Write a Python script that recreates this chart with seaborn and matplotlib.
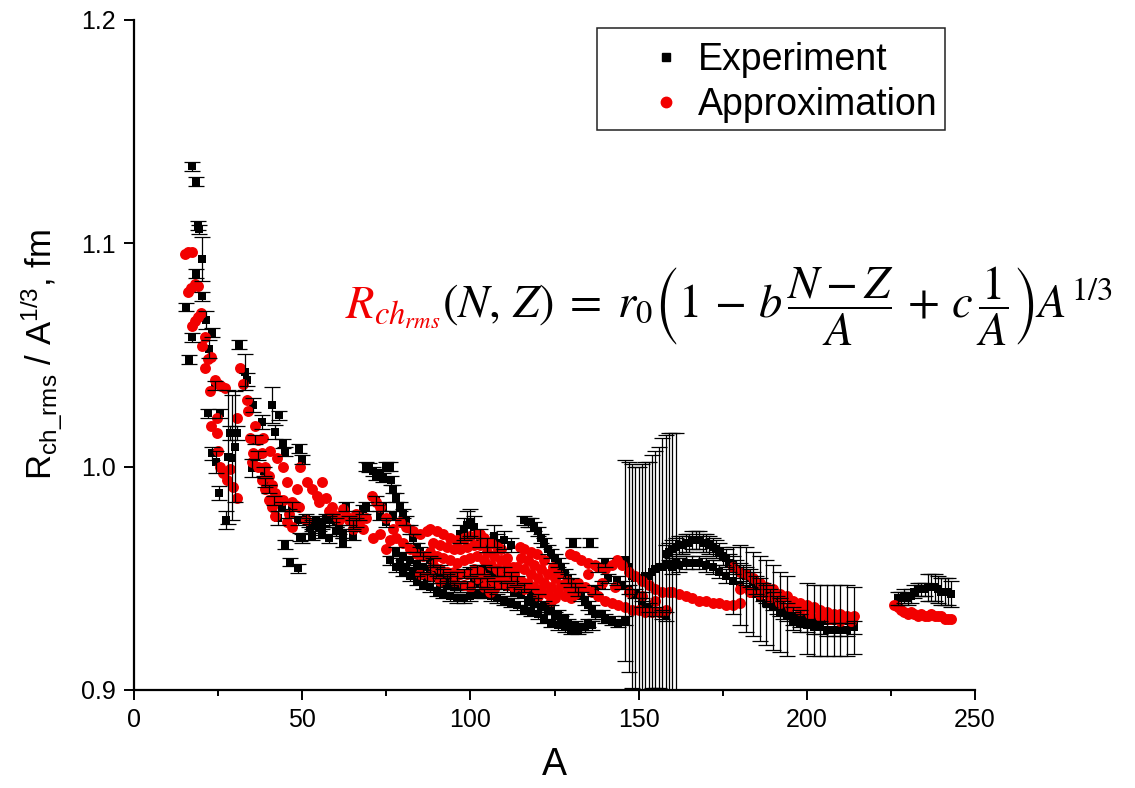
import matplotlib
matplotlib.use("Agg")
import matplotlib.pyplot as plt
from matplotlib.lines import Line2D
from matplotlib.patches import Rectangle
from matplotlib.ticker import MultipleLocator, FormatStrFormatter
import pandas as pd
import seaborn as sns

# ---------------- Experiment: (A, R/A^(1/3), error) ----------------
exp_light = [
    (15.4, 1.0715, 0.002), (16.3, 1.0478, 0.002), (17.2, 1.1346, 0.002), (17.2, 1.058, 0.002),
    (18.4, 1.1275, 0.002), (18.4, 1.0863, 0.002), (19.0, 1.1078, 0.002), (19.3, 1.1062, 0.002),
    (20.2, 1.093, 0.010), (20.2, 1.0764, 0.002), (21.4, 1.0657, 0.004), (22.0, 1.024, 0.002),
    (22.3, 1.0527, 0.004), (23.2, 1.060, 0.002), (23.2, 1.006, 0.003), (24.0, 1.0365, 0.002),
    (24.4, 1.002, 0.005), (25.3, 0.9882, 0.003), (25.5, 1.024, 0.002), (27.3, 0.976, 0.004),
    (28.0, 1.0043, 0.030), (28.5, 1.015, 0.003), (29.0, 1.004, 0.028), (30.0, 1.009, 0.025),
    (30.5, 1.015, 0.003), (31.2, 1.0545, 0.002), (33.0, 1.0424, 0.008), (33.5, 1.039, 0.003),
    (35.0, 0.9994, 0.004), (35.4, 1.0276, 0.003), (36.0, 1.012, 0.002), (37.0, 1.005, 0.002),
    (38.0, 1.020, 0.003), (38.5, 0.998, 0.002), (39.0, 0.993, 0.002), (40.0, 0.990, 0.002),
    (41.0, 1.0276, 0.008), (41.5, 0.985, 0.002), (42.0, 1.0155, 0.003), (42.8, 0.977, 0.003),
    (43.0, 1.023, 0.002), (44.0, 0.982, 0.002), (44.3, 1.0105, 0.002), (44.9, 0.965, 0.002),
    (45.0, 1.0066, 0.002), (46.0, 0.979, 0.002), (46.3, 0.9573, 0.002), (47.0, 0.982, 0.002),
    (48.7, 0.976, 0.002), (48.8, 0.9546, 0.002), (49.0, 1.008, 0.002), (49.3, 0.9685, 0.002),
    (50.0, 1.003, 0.002), (52.3, 0.9725, 0.002), (55.9, 0.9716, 0.002),
]
exp_mid = [
    (50, 0.968, 0.002), (51, 0.977, 0.002), (52, 0.975, 0.002), (53, 0.974, 0.002), (53, 0.969, 0.002),
    (54, 0.976, 0.002), (55, 0.973, 0.002), (56, 0.975, 0.002), (56, 0.970, 0.002), (57, 0.977, 0.002),
    (58, 0.976, 0.002), (58, 0.968, 0.002), (59, 0.977, 0.002), (60, 0.975, 0.002), (60, 0.971, 0.002),
    (61, 0.972, 0.002), (62, 0.970, 0.002), (62, 0.966, 0.002), (63, 0.982, 0.002), (64, 0.976, 0.002),
    (65, 0.974, 0.002), (65, 0.969, 0.002), (66, 0.975, 0.002), (67, 0.978, 0.002), (68, 0.981, 0.002),
    (69, 0.982, 0.002),
]
exp_upper = [
    (69, 1.000, 0.002), (70, 0.9997, 0.002), (71, 0.998, 0.002), (72, 0.996, 0.002), (73, 0.997, 0.002),
    (74, 0.995, 0.002), (75, 1.000, 0.002), (76, 1.000, 0.002), (76.5, 0.994, 0.002), (77, 0.990, 0.002),
    (78, 0.986, 0.002), (79, 0.982, 0.002), (80, 0.979, 0.002), (81, 0.976, 0.002), (82, 0.972, 0.002),
    (83, 0.968, 0.002), (84, 0.964, 0.002), (85, 0.962, 0.002), (86, 0.960, 0.002), (88, 0.958, 0.002),
    (89, 0.957, 0.002), (91, 0.954, 0.002), (93, 0.950, 0.002), (94, 0.949, 0.002), (72, 0.985, 0.002),
    (73, 0.978, 0.002), (74, 0.982, 0.002), (75, 0.975, 0.002), (77, 0.978, 0.002),
]
exp_band = [
    (78, 0.962, 0.002), (80, 0.960, 0.002), (82, 0.958, 0.002), (84, 0.956, 0.002), (86, 0.955, 0.002),
    (88, 0.954, 0.002), (90, 0.953, 0.002), (92, 0.952, 0.002), (94, 0.951, 0.002), (96, 0.951, 0.002),
    (98, 0.952, 0.002), (100, 0.953, 0.002), (102, 0.954, 0.002), (104, 0.954, 0.002), (106, 0.953, 0.002),
    (108, 0.953, 0.002), (110, 0.953, 0.002), (112, 0.951, 0.002), (114, 0.949, 0.002), (116, 0.946, 0.002),
    (118, 0.943, 0.002), (120, 0.941, 0.002), (122, 0.938, 0.002), (124, 0.936, 0.002), (126, 0.934, 0.002),
    (128, 0.932, 0.002),
    (76, 0.958, 0.002), (78, 0.955, 0.002), (80, 0.953, 0.002), (82, 0.951, 0.002), (84, 0.949, 0.002),
    (86, 0.947, 0.002), (88, 0.946, 0.002), (90, 0.944, 0.002), (92, 0.943, 0.002), (94, 0.942, 0.002),
    (96, 0.941, 0.002), (98, 0.941, 0.002), (100, 0.942, 0.002), (102, 0.943, 0.002), (104, 0.943, 0.002),
    (106, 0.942, 0.002), (108, 0.941, 0.002), (110, 0.940, 0.002), (112, 0.939, 0.002), (114, 0.938, 0.002),
    (116, 0.936, 0.002), (118, 0.935, 0.002), (120, 0.934, 0.002), (122, 0.932, 0.002), (124, 0.930, 0.002),
    (126, 0.929, 0.002), (128, 0.928, 0.002), (130, 0.927, 0.002), (132, 0.927, 0.002), (134, 0.928, 0.002),
    (136, 0.929, 0.002),
    (85, 0.951, 0.002), (89, 0.950, 0.002), (93, 0.947, 0.002), (97, 0.946, 0.002), (101, 0.948, 0.002),
    (105, 0.948, 0.002), (109, 0.947, 0.002), (113, 0.944, 0.002), (117, 0.940, 0.002), (121, 0.937, 0.002),
    (125, 0.933, 0.002),
]
exp_band_fill = [
    (79, 0.957, 0.002), (81, 0.955, 0.002), (83, 0.953, 0.002), (87, 0.950, 0.002), (91, 0.948, 0.002),
    (95, 0.946, 0.002), (99, 0.947, 0.002), (103, 0.948, 0.002), (107, 0.947, 0.002), (111, 0.946, 0.002),
    (115, 0.943, 0.002), (119, 0.939, 0.002), (123, 0.936, 0.002), (127, 0.931, 0.002), (129, 0.930, 0.002),
    (131, 0.929, 0.002), (133, 0.928, 0.002), (135, 0.930, 0.002),
]
exp_cluster = [
    (97, 0.970, 0.004), (98, 0.972, 0.005), (99, 0.974, 0.006), (100, 0.975, 0.006), (101, 0.973, 0.005),
    (103, 0.968, 0.004), (105, 0.965, 0.003), (107, 0.969, 0.005), (108, 0.966, 0.004), (110, 0.967, 0.004),
    (112, 0.965, 0.003),
]
exp_desc = [
    (116, 0.976, 0.002), (117, 0.975, 0.002), (118, 0.975, 0.002), (119, 0.973, 0.002), (120, 0.971, 0.002),
    (121, 0.968, 0.002), (122, 0.966, 0.002), (123, 0.963, 0.002), (124, 0.961, 0.002), (125, 0.959, 0.002),
    (126, 0.957, 0.002), (127, 0.955, 0.002), (128, 0.952, 0.002), (129, 0.950, 0.002), (130, 0.948, 0.002),
    (131, 0.946, 0.002), (132, 0.944, 0.002), (133, 0.942, 0.002), (134, 0.940, 0.002), (135, 0.938, 0.002),
    (136, 0.936, 0.002), (137, 0.934, 0.002), (130.4, 0.966, 0.002), (135.5, 0.966, 0.002),
]
exp_mix = [
    (137, 0.945, 0.002), (138, 0.955, 0.002), (139, 0.947, 0.002), (139, 0.934, 0.002), (140, 0.957, 0.002),
    (140, 0.932, 0.002), (141, 0.950, 0.002), (142, 0.931, 0.002), (143.5, 0.949, 0.002), (144, 0.930, 0.002),
    (145, 0.947, 0.002), (146, 0.931, 0.002), (147, 0.945, 0.002), (149, 0.943, 0.002), (151, 0.942, 0.002),
    (151, 0.939, 0.002), (153, 0.937, 0.002), (155, 0.935, 0.002), (157, 0.934, 0.002), (158, 0.933, 0.002),
]
exp_bigerr = [
    (146, 0.958, 0.045), (147, 0.955, 0.047), (148, 0.951, 0.050), (149, 0.950, 0.050), (150, 0.950, 0.050),
    (151, 0.950, 0.051), (152, 0.951, 0.051), (153, 0.951, 0.051), (154, 0.953, 0.052), (155, 0.954, 0.053),
    (156, 0.955, 0.054), (157, 0.955, 0.058), (158, 0.956, 0.058), (159, 0.956, 0.059), (160, 0.956, 0.059),
    (161, 0.957, 0.058),
]
exp_arc = [
    (158, 0.961, 0.004), (160, 0.963, 0.004), (162, 0.965, 0.004), (164, 0.966, 0.004), (166, 0.967, 0.004),
    (168, 0.967, 0.004), (170, 0.966, 0.004), (172, 0.964, 0.004), (174, 0.962, 0.004), (176, 0.959, 0.004),
    (178, 0.956, 0.004), (180, 0.953, 0.004), (182, 0.951, 0.004), (184, 0.949, 0.004), (186, 0.946, 0.004),
    (188, 0.943, 0.004), (190, 0.940, 0.004), (192, 0.937, 0.004), (194, 0.935, 0.004), (196, 0.933, 0.004),
    (198, 0.932, 0.004), (200, 0.932, 0.016), (202, 0.931, 0.016), (204, 0.931, 0.016), (206, 0.931, 0.016),
    (208, 0.931, 0.016), (210, 0.931, 0.016), (212, 0.931, 0.016), (214, 0.931, 0.015),
]
exp_arc_fill = [
    (159, 0.962, 0.004), (161, 0.964, 0.004), (163, 0.965, 0.004), (165, 0.966, 0.004), (167, 0.967, 0.004),
    (169, 0.966, 0.004), (171, 0.965, 0.004), (173, 0.963, 0.004), (175, 0.960, 0.004), (177, 0.957, 0.004),
    (179, 0.954, 0.004), (181, 0.952, 0.004), (183, 0.950, 0.004), (185, 0.947, 0.004), (187, 0.944, 0.004),
    (189, 0.941, 0.004), (191, 0.938, 0.004), (193, 0.936, 0.004),
]
exp_low = [
    (160, 0.955, 0.003), (162, 0.956, 0.003), (164, 0.957, 0.003), (166, 0.957, 0.003), (168, 0.957, 0.003),
    (170, 0.956, 0.003), (172, 0.955, 0.003), (174, 0.953, 0.003), (176, 0.951, 0.003), (178, 0.949, 0.015),
    (180, 0.947, 0.018), (182, 0.945, 0.019), (184, 0.943, 0.019), (186, 0.941, 0.019), (188, 0.939, 0.019),
    (190, 0.937, 0.019), (192, 0.935, 0.018), (194, 0.933, 0.018), (196, 0.931, 0.004), (198, 0.930, 0.004),
    (200, 0.929, 0.003), (202, 0.928, 0.003), (204, 0.928, 0.003), (206, 0.927, 0.003), (208, 0.927, 0.003),
    (210, 0.927, 0.003), (212, 0.927, 0.003), (214, 0.928, 0.003),
]
exp_heavy = [
    (227, 0.941, 0.003), (228, 0.941, 0.003), (229, 0.942, 0.003), (230, 0.941, 0.003), (231, 0.942, 0.003),
    (232, 0.944, 0.003), (233, 0.945, 0.003), (234, 0.945, 0.003), (235, 0.945, 0.003), (236, 0.946, 0.006),
    (237, 0.946, 0.006), (238, 0.946, 0.006), (239, 0.945, 0.006), (240, 0.944, 0.006), (241, 0.944, 0.006),
    (242, 0.944, 0.006), (243, 0.943, 0.006),
]

# ---------------- Approximation: (A, R/A^(1/3)) ----------------
apr_light = [
    (15.2, 1.095), (16.2, 1.096), (17.2, 1.096), (16.0, 1.078), (17.0, 1.080), (18.0, 1.082), (19.0, 1.081),
    (17.2, 1.063), (18.0, 1.065), (19.0, 1.067), (20.0, 1.069), (20.2, 1.054), (21.0, 1.058), (21.0, 1.044),
    (22.0, 1.048), (23.0, 1.049), (22.6, 1.034), (24.0, 1.039), (25.0, 1.037), (26.0, 1.036), (27.0, 1.035),
    (23.0, 1.018), (24.6, 1.022), (24.6, 1.015), (25.0, 1.007), (25.5, 1.000), (26.5, 0.997), (27.6, 0.994),
    (28.5, 0.999), (29.4, 0.991), (30.6, 0.986), (30.6, 1.022), (31.5, 1.044), (32.4, 1.037), (33.5, 1.030),
    (34.0, 1.025), (34.5, 1.013), (35.0, 1.002), (35.5, 1.006), (36.0, 1.018), (37.0, 1.012), (38.0, 1.006),
    (39.0, 1.000), (40.0, 0.996), (41.0, 0.992), (42.0, 0.988), (43.0, 0.985), (36.0, 1.005), (37.0, 1.000),
    (38.0, 0.994), (39.0, 0.990), (40.0, 0.985), (41.0, 0.982), (42.0, 0.978), (38.3, 1.013), (40.4, 1.007),
    (42.5, 1.004), (44.3, 1.000), (45.4, 0.993), (44.3, 0.985), (46.0, 0.979), (47.0, 0.984), (48.0, 0.983),
    (49.3, 1.000), (51.4, 0.993), (54.4, 0.987), (56.0, 0.993), (48.4, 0.990), (49.0, 0.982), (51.0, 0.976),
    (45.5, 0.975), (47.0, 0.973),
]
apr_mid = [
    (53, 0.990), (55, 0.984), (57, 0.986), (58, 0.980), (59, 0.982), (60, 0.978), (61, 0.976), (62, 0.981),
    (63, 0.978), (64, 0.976), (65, 0.972), (66, 0.979), (67, 0.975), (68, 0.972), (69, 0.977), (70.7, 0.987),
    (71, 0.968), (72, 0.984), (73, 0.982), (73, 0.970), (75, 0.977), (75, 0.963), (76, 0.967), (77, 0.972),
    (78, 0.968), (79, 0.975), (80, 0.966), (81, 0.973), (82, 0.963), (83, 0.971), (84, 0.961), (85, 0.970),
    (86, 0.960), (87, 0.971), (88, 0.972), (88, 0.962),
]
apr_band = [
    (90, 0.971), (92, 0.970), (94, 0.968), (96, 0.967), (98, 0.968), (100, 0.969), (102, 0.970), (103, 0.970),
    (104, 0.968), (106, 0.966), (108, 0.964), (109, 0.963), (111, 0.959), (112.6, 0.955), (114.7, 0.964),
    (116, 0.963), (118, 0.962), (119.7, 0.961), (122, 0.958), (124.5, 0.955), (126, 0.952), (128.6, 0.949),
    (130, 0.947), (132, 0.945),
    (90, 0.960), (92, 0.959), (94, 0.958), (96, 0.957), (98, 0.958), (100, 0.959), (102, 0.960), (104, 0.958),
    (106, 0.956), (108, 0.954), (110, 0.951), (112, 0.948), (114, 0.955), (116, 0.954), (118, 0.952),
    (120, 0.950), (122, 0.948), (124, 0.946), (126, 0.944), (128, 0.942), (130, 0.941),
    (85, 0.952), (88, 0.951), (91, 0.949), (95, 0.949), (98, 0.947), (100, 0.946), (102, 0.950), (104, 0.946),
    (105.8, 0.944), (107, 0.945), (109, 0.948), (116, 0.945), (120, 0.942), (124, 0.940),
]
apr_band_fill = [
    (89, 0.966), (91, 0.965), (93, 0.964), (95, 0.963), (97, 0.963), (99, 0.964), (101, 0.965), (103, 0.965),
    (105, 0.962), (107, 0.960), (109, 0.958), (111, 0.955), (113, 0.952), (115, 0.959), (117, 0.958),
    (119, 0.956), (121, 0.954), (123, 0.952), (125, 0.950), (127, 0.947), (129, 0.945), (131, 0.943),
    (89, 0.956), (91, 0.954), (93, 0.953), (95, 0.953), (97, 0.952), (99, 0.952), (101, 0.954), (103, 0.953),
    (105, 0.950), (107, 0.949), (109, 0.951), (111, 0.947), (113, 0.946), (115, 0.949), (117, 0.948),
    (119, 0.946), (121, 0.945), (123, 0.943), (125, 0.941),
]
apr_c = [
    (129.5, 0.961), (131, 0.960), (133, 0.958), (135, 0.957), (137, 0.956), (138, 0.955), (140, 0.954),
    (142, 0.956), (143.5, 0.958), (145, 0.956), (147, 0.953), (149, 0.951), (151, 0.949), (153, 0.947),
    (155, 0.945), (157, 0.944), (159, 0.944),
    (132, 0.948), (134, 0.946), (136, 0.944), (138, 0.942), (140, 0.940), (142, 0.939), (144, 0.938),
    (146, 0.937), (148, 0.936), (150, 0.936), (152, 0.935), (154, 0.935), (156, 0.935), (158, 0.936),
    (135, 0.952), (139, 0.948), (143, 0.946), (147, 0.944), (151, 0.942), (155, 0.940),
    (160, 0.944), (162, 0.943), (164, 0.942), (166, 0.941), (168, 0.940), (170, 0.940), (172, 0.939),
    (174, 0.939), (176, 0.938), (178, 0.938), (180, 0.939),
]
apr_d = [
    (178, 0.955), (180, 0.953), (182, 0.952), (184, 0.950), (186, 0.948), (188, 0.946), (190, 0.945),
    (192, 0.943), (194, 0.942), (196, 0.940), (198, 0.939), (200, 0.938), (202, 0.937), (204, 0.936),
    (206, 0.935), (208, 0.934), (210, 0.934), (212, 0.933), (214, 0.933),
    (180, 0.945), (183, 0.944), (186, 0.943), (189, 0.941), (192, 0.939), (195, 0.937), (198, 0.936),
    (201, 0.934), (204, 0.933), (207, 0.932), (210, 0.931), (213, 0.931),
]
apr_heavy = [
    (226, 0.938), (227, 0.937), (228, 0.936), (229, 0.935), (230, 0.934), (231, 0.935), (232, 0.934),
    (233, 0.933), (234, 0.934), (235, 0.933), (236, 0.933), (237, 0.934), (238, 0.933), (239, 0.933),
    (240, 0.933), (241, 0.932), (242, 0.932), (243, 0.932),
]

x_ticks = [0, 50, 100, 150, 200, 250]
y_ticks = [0.9, 1.0, 1.1, 1.2]
legend_labels = ["Experiment", "Approximation"]

exp_df = pd.DataFrame(exp_light + exp_mid + exp_upper + exp_band + exp_band_fill + exp_cluster
                      + exp_desc + exp_mix + exp_bigerr + exp_arc + exp_arc_fill + exp_low
                      + exp_heavy, columns=["A", "R", "err"])
apr_df = pd.DataFrame(apr_light + apr_mid + apr_band + apr_band_fill + apr_c + apr_d + apr_heavy,
                      columns=["A", "R"])

sns.set_theme(style="ticks")
plt.rcParams["font.family"] = ["Liberation Sans", "DejaVu Sans"]
plt.rcParams["mathtext.fontset"] = "custom"
plt.rcParams["mathtext.rm"] = "Liberation Sans"
plt.rcParams["mathtext.it"] = "Liberation Sans:italic"
plt.rcParams["text.color"] = "black"
plt.rcParams["axes.labelcolor"] = "black"
plt.rcParams["xtick.color"] = "black"
plt.rcParams["ytick.color"] = "black"

W, H = 1135, 788
fig = plt.figure(figsize=(W / 100, H / 100), dpi=100)
ax = fig.add_axes([134 / W, 1 - 690 / H, (975 - 134) / W, (690 - 20) / H])

RED = "#f20000"
sns.scatterplot(data=exp_df, x="A", y="R", marker="s", color="black", s=40,
                linewidth=0, zorder=2, ax=ax, legend=False)
sns.scatterplot(data=apr_df, x="A", y="R", marker="o", color=RED, s=62,
                linewidth=0, zorder=3, ax=ax, legend=False)
ax.errorbar(exp_df["A"], exp_df["R"], yerr=exp_df["err"], fmt="none", ecolor="black",
            elinewidth=0.9, capsize=6, capthick=0.9, zorder=4)

ax.set_xlim(0, 250)
ax.set_ylim(0.9, 1.2)
ax.set_xticks(x_ticks)
ax.set_yticks(y_ticks)
ax.xaxis.set_minor_locator(MultipleLocator(25))
ax.yaxis.set_major_formatter(FormatStrFormatter("%.1f"))
for s in ["top", "right"]:
    ax.spines[s].set_visible(False)
for s in ["left", "bottom"]:
    ax.spines[s].set_linewidth(1.6)
    ax.spines[s].set_color("black")
ax.tick_params(axis="both", which="major", direction="out", length=7, width=1.4,
               labelsize=18, colors="black", pad=6)
ax.tick_params(axis="x", which="minor", direction="out", length=4, width=1.4)
ax.set_xlabel("A", fontsize=27, labelpad=11)
ax.set_ylabel(r"R$_{\mathrm{ch\_rms}}$ / A$^{\mathrm{1/3}}$, fm", fontsize=25, labelpad=12)

# legend (frame drawn as a separate rectangle so it can be placed exactly)
handles = [
    Line2D([], [], marker="s", color="black", linestyle="none", markersize=6),
    Line2D([], [], marker="o", color=RED, linestyle="none", markersize=7.5),
]
fs_leg = 27
leg = fig.legend(handles, legend_labels, loc="upper left",
                 bbox_to_anchor=(647 / W, 1 - 42 / H), bbox_transform=fig.transFigure,
                 fontsize=fs_leg, frameon=False, borderpad=0, borderaxespad=0,
                 handlelength=1.0, handletextpad=0.35, labelspacing=0.24,
                 labelcolor="black")
fig.add_artist(Rectangle((597 / W, 1 - 130 / H), (945 - 597) / W, (130 - 28) / H,
                         transform=fig.transFigure, fill=False, edgecolor="#222222",
                         linewidth=1.1))

# equation: red symbol followed by the black remainder on the same baseline
ex, ey = 345 / W, 1 - 318 / H
fs_eq = 33.5
t_red = fig.text(ex, ey, r"$R_{ch_{rms}}$", fontsize=fs_eq, ha="left", va="baseline",
                 color=RED, math_fontfamily="stix")
fig.canvas.draw()
bb = t_red.get_window_extent()
x_rest = fig.transFigure.inverted().transform((bb.x1 + 2, bb.y0))[0]
fig.text(x_rest, ey,
         r"$(N,\,Z)\;=\;r_0\left(1\,-\,b\,\dfrac{N-Z}{A}\,+\,c\,\dfrac{1}{A}\right)A^{1/3}$",
         fontsize=fs_eq, ha="left", va="baseline", color="black", math_fontfamily="stix")

fig.savefig("out.png", dpi=100)
